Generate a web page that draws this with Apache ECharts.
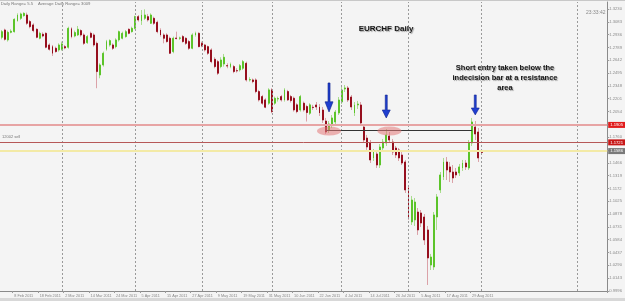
<!DOCTYPE html>
<html><head><meta charset="utf-8">
<script src="https://cdn.jsdelivr.net/npm/echarts@6/dist/echarts.min.js"></script>
<style>html,body{margin:0;padding:0;background:#f4f4f4}#c{width:625px;height:301px}</style>
</head><body><div id="c"></div>
<script>
// EURCHF daily, values
const opens = [1.2905,1.2989,1.2875,1.2962,1.2970,1.3096,1.3123,1.3153,1.3161,1.3085,1.3047,1.2997,1.2894,1.2940,1.2951,1.2817,1.2798,1.2779,1.2760,1.2768,
1.2798,1.2791,1.3004,1.2920,1.2932,1.2982,1.2932,1.2844,1.2951,1.2932,1.2836,1.2473,1.2588,1.2768,1.2817,1.2817,1.2798,1.2875,1.2894,1.2913,
1.2997,1.2970,1.3008,1.3142,1.3096,1.3123,1.3142,1.3066,1.3123,1.3077,1.2989,1.2932,1.2932,1.2894,1.2741,1.2897,1.2894,1.2913,1.2894,1.2856,
1.2779,1.2932,1.2951,1.2836,1.2817,1.2798,1.2760,1.2653,1.2626,1.2569,1.2599,1.2580,1.2569,1.2569,1.2523,1.2531,1.2550,1.2607,1.2416,1.2416,
1.2416,1.2283,1.2225,1.2187,1.2149,1.2302,1.2149,1.2198,1.2225,1.2187,1.2283,1.2225,1.2206,1.2130,1.2072,1.2149,1.2111,1.2034,1.2103,1.2129,
1.2106,1.2071,1.1945,1.1842,1.1899,1.1934,1.2037,1.2163,1.2312,1.2324,1.2220,1.2037,1.2129,1.2129,1.1876,1.1750,1.1693,1.1521,1.1567,1.1440,
1.1635,1.1693,1.1773,1.1704,1.1635,1.1613,1.1555,1.1475,1.1177,1.0787,1.0810,1.0901,1.0890,1.0844,1.0695,1.0293,1.0271,1.0844,1.1154,1.1303,
1.1475,1.1418,1.1360,1.1360,1.1349,1.1406,1.1463,1.1406,1.1693,1.1876,1.1819,1.1590];
const closes = [1.2970,1.2882,1.2962,1.2975,1.3111,1.3161,1.3173,1.3180,1.3066,1.3027,1.2982,1.2905,1.2951,1.2920,1.2791,1.2768,1.2722,1.2741,1.2817,1.2829,
1.2783,1.3008,1.2913,1.2959,1.2997,1.2932,1.2836,1.2913,1.2905,1.2817,1.2512,1.2588,1.2722,1.2856,1.2867,1.2779,1.2875,1.2970,1.2951,1.2970,
1.2951,1.3008,1.3142,1.3104,1.3161,1.3161,1.3104,1.3161,1.3066,1.2970,1.2932,1.2894,1.2856,1.2722,1.2894,1.2890,1.2898,1.2856,1.2836,1.2779,
1.2932,1.2951,1.2798,1.2806,1.2760,1.2722,1.2626,1.2569,1.2493,1.2645,1.2676,1.2576,1.2596,1.2512,1.2520,1.2580,1.2626,1.2416,1.2420,1.2397,
1.2283,1.2187,1.2149,1.2103,1.2302,1.2053,1.2206,1.2202,1.2187,1.2302,1.2187,1.2179,1.2072,1.2053,1.2225,1.2072,1.2042,1.2130,1.2099,1.2106,
1.2037,1.1957,1.1819,1.1911,1.1980,1.2048,1.2186,1.2301,1.2324,1.2186,1.2106,1.2129,1.2140,1.1922,1.1727,1.1647,1.1498,1.1590,1.1440,1.1647,
1.1704,1.1785,1.1727,1.1590,1.1555,1.1521,1.1463,1.1154,1.0844,1.1039,1.1016,1.0695,1.0775,1.0580,1.0374,1.0385,1.0867,1.1074,1.1326,1.1475,
1.1383,1.1360,1.1291,1.1326,1.1418,1.1463,1.1418,1.1693,1.1934,1.1796,1.1521,1.1585];
const lows = [1.2882,1.2867,1.2856,1.2951,1.2959,1.3085,1.3104,1.3142,1.3047,1.3008,1.2962,1.2894,1.2882,1.2905,1.2779,1.2752,1.2691,1.2729,1.2741,1.2752,
1.2768,1.2775,1.2894,1.2905,1.2920,1.2913,1.2817,1.2829,1.2894,1.2798,1.2321,1.2435,1.2569,1.2752,1.2798,1.2760,1.2779,1.2856,1.2882,1.2901,
1.2940,1.2959,1.2997,1.3085,1.3047,1.3104,1.3085,1.3058,1.3047,1.2951,1.2913,1.2836,1.2844,1.2714,1.2722,1.2882,1.2875,1.2844,1.2817,1.2760,
1.2768,1.2913,1.2791,1.2791,1.2741,1.2703,1.2607,1.2550,1.2473,1.2550,1.2569,1.2550,1.2550,1.2493,1.2500,1.2512,1.2531,1.2397,1.2397,1.2378,
1.2263,1.2168,1.2130,1.2092,1.2130,1.2034,1.2130,1.2168,1.2168,1.2168,1.2175,1.2156,1.2053,1.2034,1.2053,1.2053,1.1939,1.2015,1.2072,1.2071,
1.2002,1.1922,1.1796,1.1807,1.1864,1.1899,1.2014,1.2140,1.2278,1.2163,1.2071,1.2002,1.2083,1.1888,1.1693,1.1613,1.1463,1.1486,1.1406,1.1406,
1.1601,1.1658,1.1693,1.1555,1.1521,1.1486,1.1440,1.1119,1.0810,1.0752,1.0741,1.0638,1.0729,1.0523,1.0064,1.0236,1.0236,1.0695,1.1119,1.1268,
1.1268,1.1245,1.1234,1.1291,1.1314,1.1372,1.1383,1.1383,1.1658,1.1727,1.1475,1.1555];
const highs = [1.2989,1.3004,1.2982,1.2997,1.3123,1.3180,1.3188,1.3192,1.3188,1.3104,1.3066,1.3008,1.2970,1.2962,1.2962,1.2836,1.2817,1.2798,1.2836,1.2856,
1.2817,1.3027,1.3020,1.2982,1.3035,1.2997,1.2951,1.2932,1.2970,1.2951,1.2856,1.2607,1.2741,1.2875,1.2882,1.2836,1.2894,1.2982,1.2970,1.2989,
1.3008,1.3027,1.3153,1.3161,1.3218,1.3226,1.3173,1.3180,1.3142,1.3096,1.3008,1.2951,1.2951,1.2913,1.2913,1.2970,1.2913,1.2932,1.2905,1.2875,
1.2951,1.2970,1.2962,1.2856,1.2829,1.2810,1.2779,1.2676,1.2645,1.2676,1.2714,1.2607,1.2615,1.2588,1.2550,1.2599,1.2645,1.2626,1.2447,1.2432,
1.2435,1.2302,1.2244,1.2206,1.2321,1.2321,1.2225,1.2225,1.2244,1.2321,1.2302,1.2244,1.2225,1.2149,1.2244,1.2168,1.2130,1.2149,1.2130,1.2163,
1.2140,1.2106,1.1980,1.1945,1.2014,1.2071,1.2220,1.2335,1.2358,1.2347,1.2243,1.2163,1.2175,1.2163,1.1911,1.1785,1.1727,1.1624,1.1601,1.1681,
1.1739,1.1853,1.1819,1.1739,1.1658,1.1635,1.1590,1.1498,1.1211,1.1085,1.1062,1.0947,1.0924,1.0878,1.0741,1.0420,1.0901,1.1108,1.1360,1.1521,
1.1532,1.1475,1.1440,1.1406,1.1452,1.1498,1.1498,1.1727,1.1980,1.1945,1.1864,1.1613];

const yTicks = [1.3230,1.3083,1.2936,1.2789,1.2642,1.2495,1.2348,1.2201,1.2054,1.1907,1.1760,1.1613,1.1466,1.1319,1.1172,1.1025,1.0878,1.0731,1.0584,1.0437,1.0290,1.0143,0.9996];
const labelDates = ['2011-02-08','2011-02-18','2011-03-02','2011-03-14','2011-03-24','2011-04-05','2011-04-15','2011-04-27','2011-05-09','2011-05-19','2011-05-31','2011-06-10','2011-06-22','2011-07-04','2011-07-14','2011-07-26','2011-08-05','2011-08-17','2011-08-29'];
const separatorDates = ['2011-03-01','2011-04-01','2011-05-02','2011-06-01','2011-07-01','2011-08-01','2011-09-01','2011-10-13'];
const levelUpper = 1.1905, levelLower = 1.1721, levelYellow = 1.1586, levelBlack = 1.1834;
const blackFrom = '2011-06-24', blackTo = '2011-08-29';
const ellipses = [['2011-06-27', 1.1830], ['2011-07-22', 1.1830]];
const arrows = [['2011-06-27', 1.2215, 29], ['2011-07-21', 1.2111, 23], ['2011-08-30', 1.2129, 20]];

// calendar of trading days (weekdays) incl. empty future bars
const dates = [];
(function(){
  const d = new Date(Date.UTC(2011,1,2));
  while (dates.length < 191) {
    const wd = d.getUTCDay();
    if (wd !== 0 && wd !== 6) dates.push(d.toISOString().slice(0,10));
    d.setUTCDate(d.getUTCDate()+1);
  }
})();
const MON = ['Jan','Feb','Mar','Apr','May','Jun','Jul','Aug','Sep','Oct','Nov','Dec'];
function fmtDate(s){ const p=s.split('-'); return (+p[2])+' '+MON[+p[1]-1]+' '+p[0]; }

const full = opens.map((o,i)=>[o, closes[i], lows[i], highs[i]]);
const bodies = opens.map((o,i)=>[o, closes[i], Math.min(o,closes[i]), Math.max(o,closes[i])]);

const BULL='#5cc42a', BEAR='#960f1e', BULLW='#a9dc8e', BEARW='#dba2a8';
const arrowPath = 'path://M3,0 L5,0 L5,13 L8,13 L4,20 L0,13 L3,13 Z';
const ellPath = 'path://M0,5 A10,5 0 1,1 20,5 A10,5 0 1,1 0,5 Z';

const chart = echarts.init(document.getElementById('c'));
const lbl = (txt,bg)=>({show:true,position:'end',formatter:txt,distance:1,fontSize:4.2,color:'#fff',backgroundColor:bg,padding:[1,3,1,2],fontFamily:'Liberation Sans'});
chart.setOption({
  backgroundColor:'#f4f4f4',
  animation:false,
  grid:{left:0,right:13,top:2,bottom:10,show:false},
  xAxis:{type:'category',data:dates,boundaryGap:true,
    axisLine:{lineStyle:{color:'#8a8a8a'}},
    axisTick:{show:true,length:2,interval:(i,v)=>labelDates.includes(v),lineStyle:{color:'#999'}},
    axisLabel:{interval:(i,v)=>labelDates.includes(v),formatter:fmtDate,align:'left',fontSize:3.8,color:'#888',margin:3,fontFamily:'Liberation Sans'},
    splitLine:{show:false}},
  yAxis:{type:'value',position:'right',min:0.9995,max:1.3310,scale:true,
    axisLine:{show:true,lineStyle:{color:'#8a8a8a'}},
    axisTick:{show:true,length:2,customValues:yTicks,lineStyle:{color:'#999'}},
    axisLabel:{customValues:yTicks,formatter:v=>v.toFixed(4),fontSize:4.2,color:'#8c8c8c',margin:2,fontFamily:'Liberation Sans'},
    splitLine:{show:false}},
  series:[
    {type:'candlestick',name:'wick',data:full,barWidth:0.6,z:2,silent:true,
      itemStyle:{color:BULLW,color0:BEARW,borderColor:BULLW,borderColor0:BEARW,borderWidth:1},
      markLine:{silent:true,symbol:'none',animation:false,
        data:separatorDates.map(d=>({xAxis:d,lineStyle:{color:'#9a9a9a',type:[2,2],width:1},label:{show:false}}))}
    },
    {type:'candlestick',name:'body',data:bodies,barWidth:1.4,z:3,silent:true,
      itemStyle:{color:BULL,color0:BEAR,borderColor:BULL,borderColor0:BEAR,borderWidth:1},
      markLine:{silent:true,symbol:'none',animation:false,
        data:[
          {yAxis:levelUpper,lineStyle:{color:'#e7a4a4',width:2,type:'solid'},label:lbl(levelUpper.toFixed(4),'#e11c1c')},
          {yAxis:levelLower,lineStyle:{color:'#b65858',width:1,type:'solid'},label:lbl(levelLower.toFixed(4),'#c81818')},
          {yAxis:levelYellow,lineStyle:{color:'#f3eaa6',width:2,type:'solid'},label:lbl(levelYellow.toFixed(4),'#7a7a7a')},
          [{coord:[blackFrom,levelBlack],lineStyle:{color:'#333',width:1,type:'solid'},label:{show:false}},{coord:[blackTo,levelBlack]}]
        ]},
      markPoint:{silent:true,animation:false,
        data:[
          ...ellipses.map(e=>({coord:[e[0],e[1]],symbol:ellPath,symbolSize:[24,9],symbolKeepAspect:false,
            itemStyle:{color:'rgba(228,120,120,0.55)'},label:{show:false}})),
          ...arrows.map(a=>({coord:[a[0],a[1]],symbol:arrowPath,symbolSize:[8,a[2]],symbolKeepAspect:false,
            itemStyle:{color:'#1f3fd0',borderColor:'#0c1f8a',borderWidth:0.5},label:{show:false}}))
        ]}
    }
  ],
  graphic:[
    {type:'rect',shape:{x:0,y:298,width:625,height:3},style:{fill:'#d8d8d8'},silent:true},
    {type:'rect',shape:{x:0,y:0,width:625,height:1},style:{fill:'#c8c8c8'},silent:true},
    {type:'text',style:{x:33,y:4,text:'Norm Daily Range= 5.5',textAlign:'right',textVerticalAlign:'middle',font:'4.2px "Liberation Sans"',fill:'#777'}},
    {type:'text',style:{x:38,y:4,text:'Average Daily Range= 3009',textAlign:'left',textVerticalAlign:'middle',font:'4.2px "Liberation Sans"',fill:'#777'}},
    {type:'text',style:{x:586,y:13,text:'23:33:42',textAlign:'left',textVerticalAlign:'middle',font:'5px "Liberation Sans"',fill:'#888'}},
    {type:'text',style:{x:2,y:137,text:'12002 sell',textAlign:'left',textVerticalAlign:'middle',font:'4px "Liberation Sans"',fill:'#777'}},
    {type:'text',z:10,style:{x:386,y:29,text:'EURCHF Daily',textAlign:'center',textVerticalAlign:'middle',font:'bold 8px "Liberation Sans"',fill:'#161616',
      textShadowColor:'rgba(0,0,0,0.35)',textShadowBlur:1,textShadowOffsetX:1,textShadowOffsetY:1}},
    {type:'text',z:10,style:{x:505,y:68,text:'Short entry taken below the',textAlign:'center',textVerticalAlign:'middle',font:'bold 7.5px "Liberation Sans"',fill:'#161616',
      textShadowColor:'rgba(0,0,0,0.35)',textShadowBlur:1,textShadowOffsetX:1,textShadowOffsetY:1}},
    {type:'text',z:10,style:{x:505,y:78,text:'indecision bar at a resistance',textAlign:'center',textVerticalAlign:'middle',font:'bold 7.5px "Liberation Sans"',fill:'#161616',
      textShadowColor:'rgba(0,0,0,0.35)',textShadowBlur:1,textShadowOffsetX:1,textShadowOffsetY:1}},
    {type:'text',z:10,style:{x:505,y:88,text:'area',textAlign:'center',textVerticalAlign:'middle',font:'bold 7.5px "Liberation Sans"',fill:'#161616',
      textShadowColor:'rgba(0,0,0,0.35)',textShadowBlur:1,textShadowOffsetX:1,textShadowOffsetY:1}}
  ]
});
</script></body></html>
